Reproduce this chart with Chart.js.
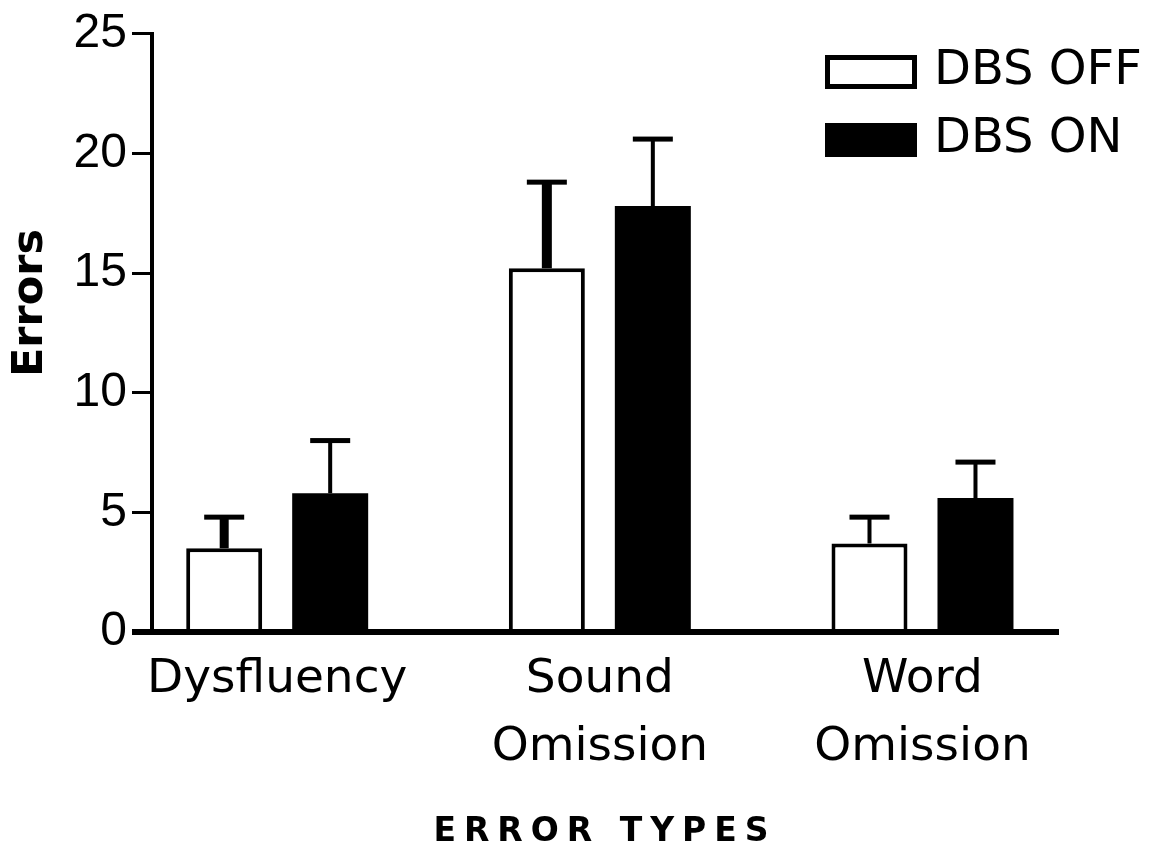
<!DOCTYPE html>
<html>
<head>
<meta charset="utf-8">
<title>Error types - DBS OFF / ON</title>
<script src="https://cdn.jsdelivr.net/npm/chart.js@4.4.0/dist/chart.umd.min.js"></script>
<style>
  html, body { margin: 0; background: #fff; }
  #wrap { width: 1159px; height: 863px; }
</style>
</head>
<body>
<div id="wrap"><canvas id="errorsChart"></canvas></div>
<script>
// data
const categories = [['Dysfluency'], ['Sound', 'Omission'], ['Word', 'Omission']];
const seriesNames = ['DBS OFF', 'DBS ON'];
const offValues = [3.5, 15.2, 3.7];
const offErrors = [1.3, 3.6, 1.1];
const onValues = [5.8, 17.8, 5.6];
const onErrors = [2.2, 2.8, 1.5];
const yTicks = [0, 5, 10, 15, 20, 25];

function toPoints(values) {
    return values.map((v, i) => ({ x: i + 1, y: v }));
}

// error bars (only the upper half, like the original)
const errorBars = {
    id: 'errorBars',
    afterDatasetsDraw(chart) {
        const ctx = chart.ctx;
        const yScale = chart.scales.y;
        chart.data.datasets.forEach((ds, i) => {
            const meta = chart.getDatasetMeta(i);
            meta.data.forEach((bar, j) => {
                const top = yScale.getPixelForValue(ds.data[j].y + ds.errors[j]);
                const stem = Array.isArray(ds.errorStem) ? ds.errorStem[j] : ds.errorStem;
                ctx.save();
                ctx.fillStyle = '#000';
                ctx.fillRect(bar.x - stem / 2, top, stem, bar.y - top);
                ctx.fillRect(bar.x - 20, top - 2.5, 40, 5);
                ctx.restore();
            });
        });
    }
};

// x title is drawn after the datasets (grid.z = 1), so it can get its own letter spacing
const titleSpacing = {
    id: 'titleSpacing',
    beforeDraw(chart) { chart.ctx.letterSpacing = '0px'; },
    afterDatasetsDraw(chart) { chart.ctx.letterSpacing = '8px'; },
    afterDraw(chart) { chart.ctx.letterSpacing = '0px'; }
};

// legend inside the plot, top right
const boxLegend = {
    id: 'boxLegend',
    afterDraw(chart) {
        const ctx = chart.ctx;
        ctx.save();
        ctx.font = "48px 'DejaVu Sans'";
        ctx.textBaseline = 'middle';
        ctx.textAlign = 'left';
        chart.data.datasets.forEach((ds, i) => {
            const top = 55 + i * 68;
            ctx.fillStyle = ds.backgroundColor;
            ctx.fillRect(825, top, 92, 34);
            ctx.lineWidth = 5;
            ctx.strokeStyle = '#000';
            ctx.strokeRect(827.5, top + 2.5, 87, 29);
            ctx.fillStyle = '#000';
            ctx.fillText(ds.label, 934, top + 17);
        });
        ctx.restore();
    }
};

const ctxErrors = document.getElementById('errorsChart').getContext('2d');
new Chart(ctxErrors, {
    type: 'bar',
    data: {
        datasets: [{
            label: seriesNames[0],
            data: toPoints(offValues),
            errors: offErrors,
            errorStem: [9, 10, 4],
            backgroundColor: '#ffffff',
            borderColor: '#000000',
            borderWidth: 4,
        }, {
            label: seriesNames[1],
            data: toPoints(onValues),
            errors: onErrors,
            errorStem: 4,
            backgroundColor: '#000000',
            borderColor: '#000000',
            borderWidth: 0,
        }]
    },
    options: {
        responsive: true,
        maintainAspectRatio: false,
        animation: false,
        categoryPercentage: 0.657,
        barPercentage: 0.717,
        layout: { padding: { top: 30, right: 101, bottom: 0, left: 0 } },
        plugins: {
            legend: { display: false },
            tooltip: { enabled: false }
        },
        scales: {
            x: {
                type: 'linear',
                position: 'bottom',
                offset: false,
                min: 0.612,
                max: 3.42,
                afterBuildTicks: (scale) => {
                    scale.ticks = categories.map((c, i) => ({ value: i + 1 }));
                },
                afterFit: (scale) => { scale.height = 231; },
                ticks: {
                    callback: (value) => categories[value - 1],
                    padding: 14,
                    color: '#000',
                    maxRotation: 0,
                    autoSkip: false,
                    font: { family: "'DejaVu Sans'", size: 47, lineHeight: 1.44 }
                },
                grid: { display: true, offset: false, drawOnChartArea: false, drawTicks: false, z: 1 },
                border: { display: true, width: 6, color: '#000', z: 1 },
                title: {
                    display: true,
                    text: 'ERROR TYPES',
                    color: '#000',
                    padding: { top: 0, bottom: 11 },
                    font: { family: "'DejaVu Sans'", size: 33, weight: 'bold', lineHeight: 1.2 }
                }
            },
            y: {
                min: yTicks[0],
                max: yTicks[yTicks.length - 1],
                afterBuildTicks: (scale) => {
                    scale.ticks = yTicks.map(v => ({ value: v }));
                },
                afterFit: (scale) => { scale.width = 152; },
                ticks: {
                    padding: 5,
                    color: '#000',
                    font: { family: "'Liberation Sans'", size: 48 }
                },
                grid: {
                    drawOnChartArea: false,
                    drawTicks: true,
                    tickLength: 20,
                    color: '#000',
                    lineWidth: (ctx) => (ctx.tick && ctx.tick.value === 0 ? 6 : 3)
                },
                border: { display: true, width: 4, color: '#000' },
                title: {
                    display: true,
                    text: '    Errors',
                    color: '#000',
                    padding: { top: 5, bottom: 0 },
                    font: { family: "'DejaVu Sans'", size: 43, weight: 'bold', lineHeight: 1.2 }
                }
            }
        }
    },
    plugins: [errorBars, titleSpacing, boxLegend]
});
</script>
</body>
</html>
